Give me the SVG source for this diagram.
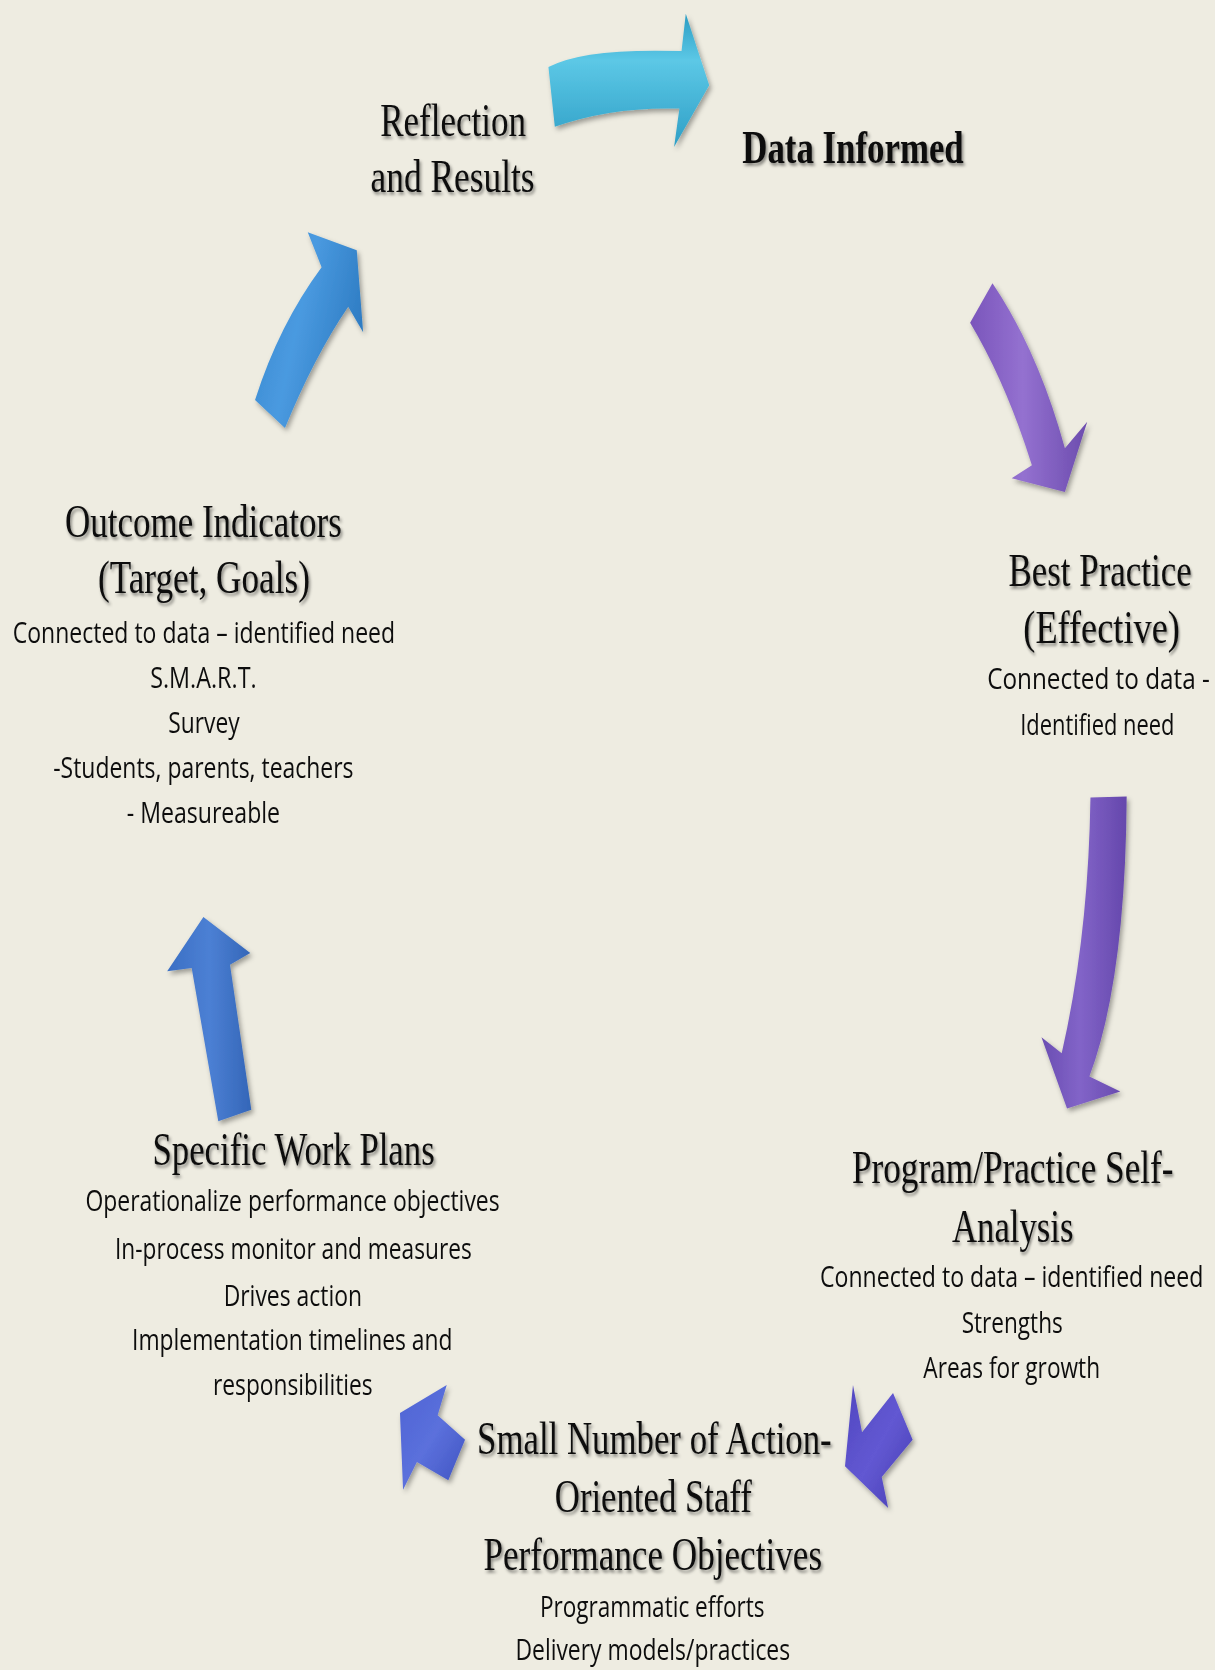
<svg xmlns="http://www.w3.org/2000/svg" width="1215" height="1670" viewBox="0 0 1215 1670">
<defs>
<style>
.h{font-family:"Liberation Serif","Times New Roman",serif;font-size:44px;fill:#111;text-anchor:middle;filter:url(#ts)}
.hb{font-weight:bold}
.b{font-family:"Open Sans","Liberation Sans",sans-serif;font-size:28px;fill:#111;text-anchor:middle;filter:url(#ts2)}
.arr{filter:url(#as)}
</style>
<filter id="ts" x="-10%" y="-30%" width="120%" height="160%">
<feDropShadow dx="1.5" dy="2.5" stdDeviation="1.6" flood-color="#000" flood-opacity="0.45"/>
</filter>
<filter id="ts2" x="-10%" y="-30%" width="120%" height="160%">
<feGaussianBlur stdDeviation="0.35"/>
</filter>
<filter id="as" x="-30%" y="-30%" width="160%" height="160%">
<feDropShadow dx="2" dy="3" stdDeviation="2.5" flood-color="#000" flood-opacity="0.35"/>
</filter>
<linearGradient id="gCyan" x1="0" y1="0" x2="0" y2="1">
<stop offset="0" stop-color="#2a9cc3"/><stop offset="0.35" stop-color="#5cc8e6"/><stop offset="1" stop-color="#2f9fc6"/>
</linearGradient>
<linearGradient id="gBlue1" x1="0" y1="0" x2="1" y2="0.4">
<stop offset="0" stop-color="#3585cc"/><stop offset="0.5" stop-color="#4a9ae0"/><stop offset="1" stop-color="#2f7dc4"/>
</linearGradient>
<linearGradient id="gPur1" x1="0" y1="0" x2="1" y2="0">
<stop offset="0" stop-color="#7a55bb"/><stop offset="0.45" stop-color="#9471d0"/><stop offset="1" stop-color="#6c4cae"/>
</linearGradient>
<linearGradient id="gPur2" x1="0" y1="0" x2="1" y2="0">
<stop offset="0" stop-color="#6a4db2"/><stop offset="0.45" stop-color="#8264c8"/><stop offset="1" stop-color="#6547ac"/>
</linearGradient>
<linearGradient id="gBlue2" x1="0" y1="0" x2="1" y2="0">
<stop offset="0" stop-color="#3a6fc4"/><stop offset="0.5" stop-color="#4c80d4"/><stop offset="1" stop-color="#3466b8"/>
</linearGradient>
<linearGradient id="gBlue3" x1="0" y1="0" x2="1" y2="1">
<stop offset="0" stop-color="#4e64d4"/><stop offset="0.5" stop-color="#5b70dc"/><stop offset="1" stop-color="#3f53c0"/>
</linearGradient>
<linearGradient id="gBlue4" x1="0" y1="0" x2="1" y2="1">
<stop offset="0" stop-color="#5046c0"/><stop offset="0.5" stop-color="#6258d2"/><stop offset="1" stop-color="#453cb2"/>
</linearGradient>
</defs>
<rect width="1215" height="1670" fill="#eeece1"/>
<g transform="scale(1.0649)">
<g id="connectors">
<path id="arrow-reflection-data" class="arr" fill="url(#gCyan)" d="M515,63 Q548,45 640,48 L644,13 L666,80 L633,138 L638,102 Q575,100 521,119 Z"/>
<path id="arrow-data-best" class="arr" fill="url(#gPur1)" d="M932,266 Q975,330 1000,421 L1021,396 L1000,462 L950,449 L969,437 Q945,360 911,303 Z"/>
<path id="arrow-best-program" class="arr" fill="url(#gPur2)" d="M1024,749 L1058,748 Q1057,920 1023,1011 L1052,1025 L1002,1041 L978,974 L997,989 Q1022,880 1024,749 Z"/>
<path id="arrow-program-small" class="arr" fill="url(#gBlue4)" d="M801,1300.5 L793.5,1377 L834,1416 L828,1387 L857,1352 L838.6,1308 L809.5,1345 Z"/>
<path id="arrow-small-work" class="arr" fill="url(#gBlue3)" d="M419.5,1300.5 L375.6,1327 L378.5,1399 L391.5,1373 L421,1390 L436.7,1352 L411,1329 Z"/>
<path id="arrow-work-outcome" class="arr" fill="url(#gBlue2)" d="M205,1053 L180,909 L157,912 L191,861 L235,895 L216,906 L236,1042 Z"/>
<path id="arrow-outcome-reflection" class="arr" fill="url(#gBlue1)" d="M239.5,375.6 Q262,305 302,251 L289,218 L335,235 L341,312 L327,288 Q295,335 267.6,402 Z"/>
</g>
<g id="node-reflection">
<text class="h" x="425.5" y="128" textLength="137" lengthAdjust="spacingAndGlyphs">Reflection</text>
<text class="h" x="425" y="180" textLength="154" lengthAdjust="spacingAndGlyphs">and Results</text>
</g>
<g id="node-data">
<text class="h hb" x="801" y="153" textLength="208" lengthAdjust="spacingAndGlyphs">Data Informed</text>
</g>
<g id="node-best" transform="translate(1033 0) scale(0.7 1)">
<text class="h" x="0" y="550" textLength="245.7" lengthAdjust="spacingAndGlyphs">Best Practice</text>
<text class="h" x="2.1" y="604" textLength="210" lengthAdjust="spacingAndGlyphs">(Effective)</text>
<text class="b" x="-2.1" y="647" textLength="298.6" lengthAdjust="spacingAndGlyphs">Connected to data -</text>
<text class="b" x="-3.6" y="690" textLength="207" lengthAdjust="spacingAndGlyphs">Identified need</text>
</g>
<g id="node-program" transform="translate(951 0) scale(0.7 1)">
<text class="h" x="0" y="1111" textLength="431.4" lengthAdjust="spacingAndGlyphs">Program/Practice Self-</text>
<text class="h" x="0" y="1166" textLength="162.9" lengthAdjust="spacingAndGlyphs">Analysis</text>
<text class="b" x="-1.4" y="1209" textLength="514.3" lengthAdjust="spacingAndGlyphs">Connected to data – identified need</text>
<text class="b" x="-0.7" y="1252" textLength="135.7" lengthAdjust="spacingAndGlyphs">Strengths</text>
<text class="b" x="-1.4" y="1294" textLength="237.1" lengthAdjust="spacingAndGlyphs">Areas for growth</text>
</g>
<g id="node-small">
<text class="h" x="614.5" y="1365" textLength="333" lengthAdjust="spacingAndGlyphs">Small Number of Action-</text>
<text class="h" x="613.5" y="1420" textLength="185" lengthAdjust="spacingAndGlyphs">Oriented Staff</text>
<text class="h" x="613" y="1474" textLength="318" lengthAdjust="spacingAndGlyphs">Performance Objectives</text>
<text class="b" x="612.5" y="1518" textLength="211" lengthAdjust="spacingAndGlyphs">Programmatic efforts</text>
<text class="b" x="613" y="1559" textLength="258" lengthAdjust="spacingAndGlyphs">Delivery models/practices</text>
</g>
<g id="node-work">
<text class="h" x="275.7" y="1094" textLength="265" lengthAdjust="spacingAndGlyphs">Specific Work Plans</text>
<text class="b" x="274.7" y="1137" textLength="389" lengthAdjust="spacingAndGlyphs">Operationalize performance objectives</text>
<text class="b" x="275.5" y="1182" textLength="335" lengthAdjust="spacingAndGlyphs">In-process monitor and measures</text>
<text class="b" x="275" y="1226" textLength="130" lengthAdjust="spacingAndGlyphs">Drives action</text>
<text class="b" x="274.5" y="1268" textLength="301" lengthAdjust="spacingAndGlyphs">Implementation timelines and</text>
<text class="b" x="275" y="1310" textLength="150" lengthAdjust="spacingAndGlyphs">responsibilities</text>
</g>
<g id="node-outcome">
<text class="h" x="191" y="504" textLength="260" lengthAdjust="spacingAndGlyphs">Outcome Indicators</text>
<text class="h" x="191.5" y="557" textLength="199" lengthAdjust="spacingAndGlyphs">(Target, Goals)</text>
<text class="b" x="191.5" y="604" textLength="359" lengthAdjust="spacingAndGlyphs">Connected to data – identified need</text>
<text class="b" x="191" y="646" textLength="100" lengthAdjust="spacingAndGlyphs">S.M.A.R.T.</text>
<text class="b" x="191.5" y="688" textLength="67" lengthAdjust="spacingAndGlyphs">Survey</text>
<text class="b" x="191" y="731" textLength="282" lengthAdjust="spacingAndGlyphs">-Students, parents, teachers</text>
<text class="b" x="191" y="773" textLength="144" lengthAdjust="spacingAndGlyphs">- Measureable</text>
</g>
</g>
</svg>
